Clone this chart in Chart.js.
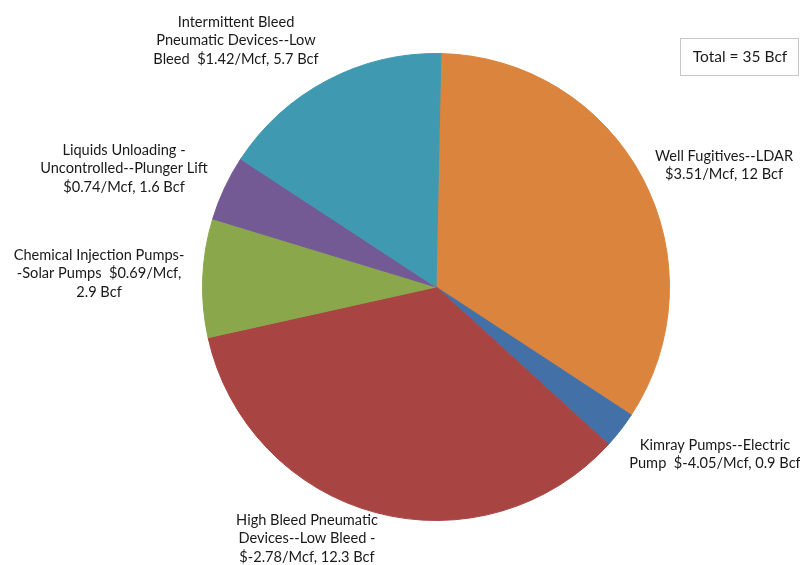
<!DOCTYPE html>
<html><head><meta charset="utf-8">
<script src="https://cdn.jsdelivr.net/npm/chart.js@4.4.0/dist/chart.umd.min.js"></script>
<style>html,body{margin:0;padding:0;background:#fff}#wrap{width:800px;height:565px;position:relative}</style>
</head><body><div id="wrap"><canvas id="c"></canvas></div>
<script>
const categories = ["Well Fugitives--LDAR","Kimray Pumps--Electric Pump","High Bleed Pneumatic Devices--Low Bleed","Chemical Injection Pumps--Solar Pumps","Liquids Unloading - Uncontrolled--Plunger Lift","Intermittent Bleed Pneumatic Devices--Low Bleed"];
const volumesBcf = [12, 0.9, 12.3, 2.9, 1.6, 5.7];
const costPerMcf = ["$3.51/Mcf","$-4.05/Mcf","$-2.78/Mcf","$0.69/Mcf","$0.74/Mcf","$1.42/Mcf"];
const labelLines = [
  ["Well Fugitives--LDAR","$3.51/Mcf, 12 Bcf"],
  ["Kimray Pumps--Electric","Pump  $-4.05/Mcf, 0.9 Bcf"],
  ["High Bleed Pneumatic","Devices--Low Bleed -","$-2.78/Mcf, 12.3 Bcf"],
  ["Chemical Injection Pumps-","-Solar Pumps  $0.69/Mcf,","2.9 Bcf"],
  ["Liquids Unloading -","Uncontrolled--Plunger Lift","$0.74/Mcf, 1.6 Bcf"],
  ["Intermittent Bleed","Pneumatic Devices--Low","Bleed  $1.42/Mcf, 5.7 Bcf"]
];
const totalText = "Total = 35 Bcf";
const colors = ["#DB843D","#4470A8","#A84543","#8BA74C","#745A95","#3F99B1"];
const labelPos = [[724,156],[715,445],[307,520],[99,255],[124,150],[236,22]];

const labelPlugin = {
  id:'labels',
  afterDraw(chart){
    const ctx = chart.ctx;
    ctx.save();
    ctx.fillStyle = '#1a1a1a';
    ctx.font = '14.6px Lato, "Open Sans", sans-serif';
    ctx.textAlign = 'center';
    ctx.textBaseline = 'middle';
    labelLines.forEach((lines,i)=>{
      const [x,y] = labelPos[i];
      lines.forEach((t,j)=>ctx.fillText(t, x, y + j*18.5));
    });
    ctx.font = '15.5px Lato, "Open Sans", sans-serif';
    ctx.strokeStyle = '#c8c8c8';
    ctx.lineWidth = 1;
    ctx.strokeRect(680.5, 38.5, 118, 37);
    ctx.fillText(totalText, 740, 57);
    ctx.restore();
  }
};

new Chart(document.getElementById('c'), {
  type:'pie',
  data:{labels:categories, datasets:[{data:volumesBcf, backgroundColor:colors, borderColor:colors, borderWidth:1}]},
  options:{
    responsive:true, maintainAspectRatio:false, animation:false,
    rotation:1.2,
    layout:{padding:{top:53,bottom:44,left:202,right:130}},
    plugins:{legend:{display:false},tooltip:{enabled:false}}
  },
  plugins:[labelPlugin]
});
</script></body></html>
